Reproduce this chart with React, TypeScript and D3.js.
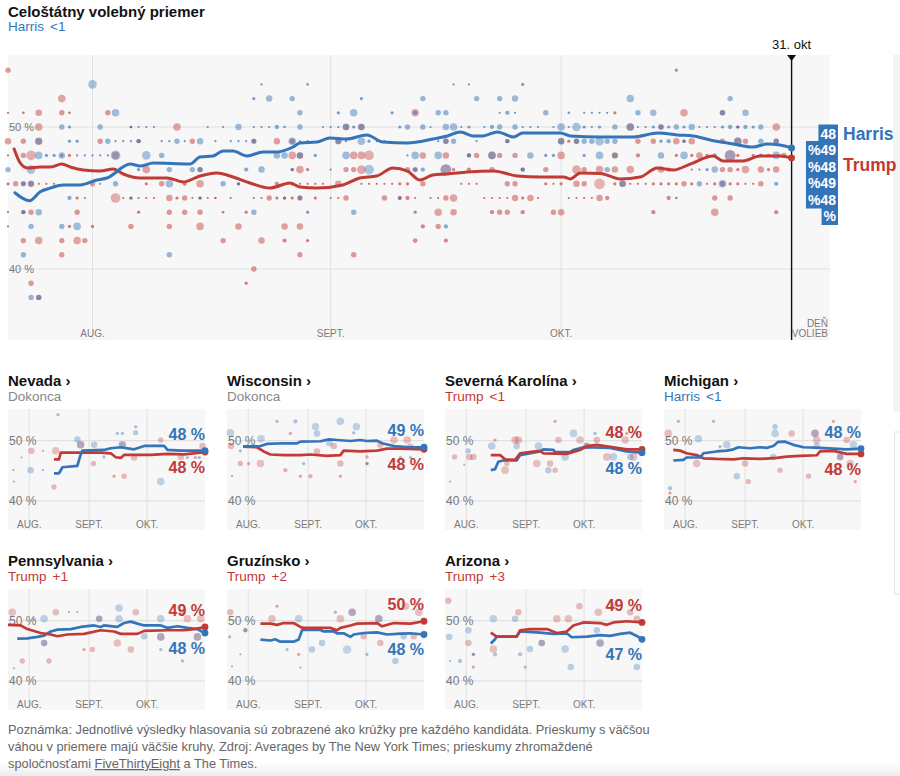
import React from "react";
import * as d3 from "d3";

// ---------- constants / styles ----------
const FONT = "'Liberation Sans', Arial, Helvetica, sans-serif";
const BLUE = "#3474b9";
const RED = "#c23a36";
const AXIS_GREY = "#7a7a7a";
const GRID = "#e1e1e1";
const BG = "#f7f7f7";

// ---------- data ----------
const startDate = "2024-07-21";
const electionDate = "2024-11-05";
const panelEndDate = "2024-10-31";
const markerDate = "2024-10-31";
const markerLabel = "31. okt";
const electionLabel = ["DEŇ", "VOLIEB"];
const monthTicks = ["2024-08-01", "2024-09-01", "2024-10-01"];
const monthLabels = ["AUG.", "SEPT.", "OKT."];
const pctTicks = [50, 40];
const pctTickLabels = ["50 %", "40 %"];

const mainTitle = "Celoštátny volebný priemer";
const mainLeader = "Harris";
const mainMargin = "<1";
const mainBoxLines = ["48", "%49", "%48", "%49", "%48", "%"];

// national averages: [days since 21 Jul, %]
const harrisAvg: [number, number][] = [
  [0.9, 45.37], [2.8, 44.81], [4.2, 45.44], [5.5, 45.7], [7.2, 45.92], [9.4, 45.92], [11.6, 46.27], [12.9, 46.41],
  [15.9, 47.39], [17.2, 47.25], [18.9, 47.46], [23.7, 47.39], [25, 47.89], [26.7, 47.96], [28, 48.31], [29.3, 48.31],
  [31.1, 47.96], [33.2, 48.24], [35, 48.24], [37.1, 48.59], [38, 48.87], [40.2, 48.94], [41.9, 49.23], [44.1, 49.15],
  [46.7, 49.44], [48.8, 48.94], [52, 48.87], [55.3, 49.15], [57.2, 49.37], [58.9, 49.65], [60.5, 49.37], [61.8, 49.37],
  [63.7, 49.65], [65.8, 49.3], [67, 49.58], [69.7, 49.58], [71.9, 49.58], [73.2, 49.37], [77.1, 49.3], [81.4, 49.3],
  [84.6, 49.58], [87.1, 49.44], [89.2, 49.37], [91.4, 49.08], [94.4, 48.8], [97, 48.59], [98.8, 48.8], [100.5, 48.73],
  [102, 48.52],
];
const trumpAvg: [number, number][] = [
  [0.8, 48.45], [1.6, 47.46], [2.6, 47.11], [4.2, 47.18], [5.5, 47.18], [7, 47.39], [8.1, 47.18], [9.8, 46.97],
  [12, 46.9], [13.7, 47.04], [15, 46.69], [17.2, 46.41], [20.7, 46.41], [22.8, 46.13], [25, 46.55], [27.2, 46.76],
  [29.3, 46.48], [31.5, 46.06], [34.1, 45.7], [36.7, 46.06], [38, 45.77], [40.2, 45.7], [43.6, 45.92], [45.8, 46.41],
  [48, 46.55], [50.1, 47.11], [52, 46.9], [53.6, 46.27], [55.3, 46.62], [57.2, 46.69], [59.8, 46.83], [63.2, 46.9],
  [66.3, 46.55], [69.3, 46.48], [72.3, 46.48], [73.2, 46.34], [74.5, 46.76], [77.1, 46.73], [79.7, 46.34], [82.3, 46.48],
  [84.5, 47.11], [86.6, 46.97], [88.8, 47.39], [91.8, 47.96], [93.1, 47.61], [95.7, 47.61], [97.9, 47.96], [100.5, 47.96],
  [102, 47.82],
];

// national polls: [days since 21 Jul, %, weight]
const harrisPolls: [number, number, number][] = [
  [11, 53, 4], [14, 51, 3.5], [7, 50, 2.5], [8, 50, 1.5], [12, 50, 2.5], [16, 50, 1.2], [17, 50, 1], [18, 50, 1], [19, 50, 1], [26, 50, 1],
  [4, 49, 3], [8, 49, 1.5], [9, 49, 1.5], [13, 49, 2.5], [14, 49, 1], [15, 49, 1], [16, 49, 1], [17, 49, 2], [20, 49, 1], [21, 49, 1],
  [22, 49, 2.5], [23, 49, 1], [25, 49, 3], [27, 49, 1], [4, 48, 3.5], [5, 48, 1.5], [6, 48, 1.5], [7, 48, 3], [9, 48, 1], [10, 48, 1],
  [11, 48, 1], [12, 48, 1], [13, 48, 1], [14, 48, 4.5], [18, 48, 4], [20, 48, 2.5], [0, 47, 2.5], [3, 47, 4], [17, 47, 1.5], [21, 47, 2.5],
  [24, 47, 2.5], [25, 47, 2.5], [2, 46, 2], [3, 46, 2.5], [12, 46, 1], [14, 46, 2.5], [21, 46, 3.5], [8, 45, 2], [16, 45, 1.5], [25, 45, 1.5],
  [0, 44, 1], [2, 44, 2], [4, 44, 3], [0, 43, 1], [3, 43, 2.5], [7, 43, 2.5], [9, 43, 3.5], [2, 41, 2.5], [21, 41, 2.5], [3, 38, 2.5], [4, 38, 2.5],
  [33, 53, 1], [39, 53, 1.2], [32, 52, 1.5], [34, 52, 3], [37, 52, 2.5], [46, 52, 1.5], [54, 52, 2.5],
  [38, 51, 2.5], [43, 51, 1.5], [45, 51, 3.5], [50, 51, 1.5], [53, 51, 2],
  [28, 50, 1], [30, 50, 3], [32, 50, 1], [33, 50, 1], [34, 50, 1], [35, 50, 2], [36, 50, 1.2], [38, 50, 2.5], [41, 50, 1], [42, 50, 1],
  [43, 50, 1], [44, 50, 3], [45, 50, 1.5], [46, 50, 3], [51, 50, 1.5], [52, 50, 2.5], [54, 50, 2.5],
  [29, 49, 1], [30, 49, 1], [31, 49, 1], [32, 49, 2], [37, 49, 3.5], [38, 49, 1], [39, 49, 1], [43, 49, 2.5], [44, 49, 1], [46, 49, 3.5],
  [47, 49, 1.5], [48, 49, 1], [49, 49, 1], [35, 48, 3], [36, 48, 3], [38, 48, 3], [40, 48, 1.5], [44, 48, 3.5], [52, 48, 1], [53, 48, 3.5],
  [31, 47, 2], [33, 47, 3], [37, 47, 1.5], [42, 47, 1], [47, 47, 4.5], [53, 47, 2], [54, 47, 2], [28, 46, 2.5], [30, 46, 1.5],
  [36, 45, 1.5], [38, 45, 2], [51, 45, 1.5], [32, 44, 2.5], [39, 44, 1.5], [45, 44, 2.5], [53, 44, 1.5],
  [58, 53, 1], [60, 53, 1], [67, 53, 1.5], [61, 52, 2.5], [64, 52, 2.5], [66, 52, 3], [81, 52, 3.5],
  [56, 51, 2.5], [57, 51, 2.5], [64, 51, 1], [65, 51, 2], [66, 51, 1], [70, 51, 2.5], [73, 51, 1.2], [75, 51, 1], [76, 51, 1], [77, 51, 1], [78, 51, 1],
  [55, 50, 1], [57, 50, 3], [58, 50, 3.5], [59, 50, 1], [60, 50, 1.5], [62, 50, 1], [63, 50, 2], [64, 50, 2.5], [66, 50, 2.5], [67, 50, 1],
  [68, 50, 1], [69, 50, 1], [71, 50, 1], [72, 50, 3.5], [73, 50, 1], [74, 50, 4], [75, 50, 1.5], [76, 50, 1], [77, 50, 1.5], [79, 50, 2.5], [81, 50, 3.5],
  [56, 49, 1], [57, 49, 2.5], [58, 49, 2.5], [61, 49, 1], [65, 49, 2], [72, 49, 3], [74, 49, 2.5], [75, 49, 2.5], [76, 49, 2.5], [77, 49, 4],
  [78, 49, 2.5], [79, 49, 2.5], [56, 48, 3.5], [60, 48, 2], [63, 48, 3.5], [68, 48, 3], [70, 48, 1.5], [71, 48, 1.5], [75, 48, 1.5], [77, 48, 3.5],
  [79, 48, 2.5], [57, 47, 5], [67, 47, 2], [78, 47, 2.5], [80, 46, 3], [57, 43, 2],
  [87, 54, 1.5], [94, 52, 2.5], [82, 51, 2.5], [84, 51, 3], [93, 51, 2.5], [96, 51, 3],
  [82, 50, 1], [83, 50, 1], [84, 50, 1.5], [85, 50, 2.5], [86, 50, 1.5], [87, 50, 2.5], [88, 50, 1.5], [89, 50, 3], [90, 50, 1], [91, 50, 1],
  [92, 50, 1], [93, 50, 1.5], [94, 50, 2], [95, 50, 1.5], [96, 50, 2], [97, 50, 1.5], [98, 50, 2.5],
  [85, 49, 1.5], [86, 49, 2], [88, 49, 1.5], [95, 49, 3.5], [98, 49, 2.5], [100, 49, 2.5],
  [85, 48, 3], [88, 48, 3.5], [92, 48, 2], [94, 48, 5], [98, 48, 1.5], [100, 48, 3.5],
  [84, 47, 1.5], [89, 47, 1], [90, 47, 1], [91, 47, 1.5], [92, 47, 3], [90, 46, 2.5], [93, 46, 3.5], [100, 46, 2], [87, 45, 1.2],
];
const trumpPolls: [number, number, number][] = [
  [0, 54, 2.5], [7, 52, 3.5], [0, 51, 1], [2, 51, 1.2], [4, 51, 3], [7, 51, 2.5], [8, 51, 1.2], [13, 51, 2.5],
  [4, 50, 3.5], [16, 50, 1.2], [22, 50, 3.5], [0, 49, 3], [2, 49, 2.5], [4, 49, 3.5], [12, 49, 2.5], [17, 49, 2], [24, 49, 2.5],
  [0, 48, 1], [2, 48, 2.5], [3, 48, 4.5], [7, 48, 1.2], [8, 48, 1.5], [14, 48, 3.5], [18, 47, 3.5], [25, 47, 2.5],
  [0, 46, 1.5], [1, 46, 2.5], [2, 46, 2.5], [3, 46, 3], [4, 46, 1], [5, 46, 1], [6, 46, 1], [11, 46, 2.5], [18, 46, 1.5], [20, 46, 2.5],
  [23, 46, 2], [25, 46, 3.5], [9, 45, 1.5], [10, 45, 1], [14, 45, 4.5], [15, 45, 1], [16, 45, 1.5], [17, 45, 1], [18, 45, 1], [19, 45, 1],
  [21, 45, 3], [22, 45, 1.5], [23, 45, 2.5], [24, 45, 1], [25, 45, 1.5], [26, 45, 1], [27, 45, 1],
  [2, 44, 2], [3, 44, 2.5], [9, 44, 2.5], [17, 44, 1.5], [21, 44, 2.5], [23, 44, 2.5], [25, 44, 2.5],
  [8, 43, 1.5], [11, 43, 1.5], [16, 43, 2.5], [21, 43, 2.5], [25, 43, 3.5], [2, 42, 2.5], [4, 42, 3.5], [7, 42, 2.5], [9, 42, 3.5], [10, 42, 2.5],
  [7, 41, 2.5], [3, 39, 2.5], [4, 38, 2.5],
  [53, 51, 3.5], [44, 50, 3], [46, 50, 3], [32, 49, 2.5], [35, 49, 3], [37, 49, 2.5], [43, 49, 3],
  [37, 48, 3.5], [38, 48, 3], [45, 48, 3.5], [46, 48, 3.5], [47, 48, 4.5], [54, 48, 3],
  [37, 47, 1.5], [38, 47, 3.5], [39, 47, 1.5], [44, 47, 2.5], [45, 47, 2.5], [46, 47, 4], [52, 47, 2.5], [53, 47, 2.5],
  [30, 46, 1.5], [35, 46, 2], [37, 46, 1.5], [38, 46, 1], [39, 46, 1], [40, 46, 1], [41, 46, 1], [43, 46, 3], [44, 46, 1], [46, 46, 1],
  [47, 46, 1], [48, 46, 1], [49, 46, 1], [50, 46, 1], [51, 46, 1.5], [52, 46, 1.5], [54, 46, 2.5],
  [27, 45, 1], [29, 45, 1], [32, 45, 1], [33, 45, 1], [34, 45, 2.5], [35, 45, 1.5], [36, 45, 1.5], [37, 45, 1.5], [38, 45, 2.5], [40, 45, 1.5],
  [42, 45, 1], [43, 45, 1], [44, 45, 2.5], [49, 45, 2.5], [51, 45, 2], [52, 45, 2], [53, 45, 1],
  [28, 44, 1.2], [31, 44, 1.5], [30, 43, 3], [36, 43, 3], [38, 43, 3], [54, 43, 2],
  [28, 42, 2.5], [33, 42, 3], [36, 42, 2], [39, 42, 1.5], [53, 42, 2.2], [38, 41, 2.5], [45, 41, 2.5], [32, 40, 2.5], [31, 39, 1.5],
  [79, 51, 1.5], [81, 50, 3.5], [57, 49, 2.5], [65, 49, 2], [72, 49, 3], [73, 49, 1.5], [74, 49, 2.5],
  [57, 48, 3], [60, 48, 2], [61, 48, 2.5], [63, 48, 3.5], [64, 48, 2.5], [66, 48, 2.5], [72, 48, 3.5], [79, 48, 3],
  [57, 47, 5], [58, 47, 1.5], [60, 47, 2], [63, 47, 2.5], [67, 47, 2], [70, 47, 2.5], [74, 47, 4], [75, 47, 2.5], [77, 47, 3.5], [79, 47, 3], [81, 47, 3.5],
  [59, 46, 1], [60, 46, 1], [61, 46, 1], [65, 46, 2.5], [66, 46, 2.5], [70, 46, 1.5], [71, 46, 1], [72, 46, 1.5], [74, 46, 3],
  [75, 46, 2.5], [77, 46, 5], [79, 46, 1.5], [80, 46, 3],
  [55, 45, 1], [56, 45, 1], [57, 45, 2.5], [58, 45, 3.5], [62, 45, 1], [63, 45, 1], [64, 45, 1], [65, 45, 1], [66, 45, 3], [67, 45, 1.5],
  [68, 45, 3], [69, 45, 1], [73, 45, 1], [74, 45, 1], [75, 45, 1], [76, 45, 1], [77, 45, 3], [78, 45, 2],
  [56, 44, 3.5], [58, 44, 3], [63, 44, 2], [64, 44, 2.5], [65, 44, 2.5], [67, 44, 2], [71, 44, 2.5], [72, 44, 3], [56, 43, 2.5], [57, 42, 2],
  [88, 51, 3.5], [93, 51, 2.5], [85, 50, 2.5], [95, 50, 1.5], [100, 50, 3.5],
  [82, 49, 2.5], [84, 49, 2.5], [87, 49, 3], [88, 49, 1.5], [89, 49, 3], [93, 49, 2.5], [95, 49, 3.5], [96, 49, 2.5], [100, 49, 2.5],
  [82, 48, 2], [87, 48, 1.5], [89, 48, 1.5], [90, 48, 3], [91, 48, 1.5], [94, 48, 5], [95, 48, 1.5], [97, 48, 1.5], [98, 48, 1.5], [99, 48, 1.5], [101, 48, 2.5],
  [85, 47, 3], [86, 47, 2], [93, 47, 2.5], [94, 47, 2.5], [95, 47, 1.5], [96, 47, 3.5], [98, 47, 3], [99, 47, 1.5], [100, 47, 3],
  [81, 46, 1], [82, 46, 1], [83, 46, 1], [84, 46, 1.5], [85, 46, 1.5], [86, 46, 1.5], [87, 46, 1.5], [88, 46, 2.5], [89, 46, 1.5], [91, 46, 1],
  [92, 46, 1.5], [93, 46, 2.5], [94, 46, 1.5], [95, 46, 1.5], [96, 46, 1], [97, 46, 1], [98, 46, 2.5],
  [86, 45, 2], [92, 45, 2.5], [94, 45, 2.5], [84, 44, 2], [92, 44, 3.5], [100, 44, 2],
];

// battleground states
const stateNames = ["Nevada", "Wisconsin", "Severná Karolína", "Michigan", "Pennsylvania", "Gruzínsko", "Arizona"];
const stateLeaders = ["", "", "Trump", "Harris", "Trump", "Trump", "Trump"];
const stateMargins = ["Dokonca", "Dokonca", "<1", "<1", "+1", "+2", "+3"];
const stateHarrisLabels = ["48 %", "49 %", "48 %", "48 %", "48 %", "48 %", "47 %"];
const stateTrumpLabels = ["48 %", "48 %", "48 %", "48 %", "49 %", "50 %", "49 %"];

const nevadaHarris: [number, number][] = [[23.8, 44.58], [26.4, 44.58], [28.2, 45.58], [35.9, 45.8], [37.3, 47.35], [38.5, 48.34], [49.7, 48.45], [53.2, 48.73], [58.4, 48.9], [65.3, 48.56], [70.5, 49.12], [80.8, 49.12], [82.6, 48.45], [89.5, 48.34], [102, 48.34]];
const nevadaTrump: [number, number][] = [[23.8, 46.9], [26.4, 46.9], [27.3, 48.0], [48, 48.0], [53.2, 47.9], [55.8, 47.24], [58.4, 47.13], [60.1, 47.62], [73.9, 47.62], [82.6, 47.79], [91.2, 47.73], [102, 48.1]];
const wisconsinHarris: [number, number][] = [[8.3, 49.0], [17.3, 49.1], [20.7, 49.45], [29.4, 49.56], [36.3, 49.56], [38, 49.83], [48.4, 49.9], [52.7, 50.2], [57, 50.1], [63.9, 49.94], [69, 50.1], [72.5, 49.94], [77.7, 50.0], [80.3, 49.56], [86.4, 49.1], [95, 48.9], [102, 48.9]];
const wisconsinTrump: [number, number][] = [[8.3, 49.0], [15.5, 48.9], [19, 48.2], [22.5, 47.7], [29.4, 47.6], [38, 47.6], [43.2, 47.7], [51.8, 47.46], [58.7, 47.6], [60.4, 48.34], [69, 48.23], [77.7, 48.34], [82.9, 48.67], [89.8, 48.67], [102, 48.56]];
const carolinaHarris: [number, number][] = [[23.7, 45.1], [25.9, 45.25], [27.6, 46.5], [30.2, 46.7], [37.1, 46.7], [38.9, 47.6], [49.2, 48.2], [50.9, 48.56], [56.1, 48.45], [57, 48.1], [64.8, 48.1], [66.5, 48.45], [71.7, 48.9], [85.5, 48.8], [94.1, 48.2], [102, 48.0]];
const carolinaTrump: [number, number][] = [[23.7, 47.6], [28.5, 47.6], [31.1, 46.9], [36.3, 46.8], [38.9, 47.9], [45.8, 48.2], [49.2, 48.3], [50.9, 47.9], [63, 47.8], [69.9, 48.45], [73.4, 49.1], [78.6, 49.3], [87.2, 48.9], [94.1, 48.56], [102, 48.56]];
const michiganHarris: [number, number][] = [[4.8, 46.7], [10, 46.8], [11.7, 47.2], [18.7, 47.2], [20.4, 47.9], [27.3, 48.2], [32.5, 48.34], [36, 48.56], [38.5, 48.9], [44.6, 48.73], [49.7, 48.9], [53.2, 48.8], [56.6, 49.1], [59.2, 49.8], [62.7, 49.83], [67, 49.3], [72.2, 48.9], [80.8, 48.8], [87.7, 48.67], [94.6, 48.56], [102, 48.67]];
const michiganTrump: [number, number][] = [[4.8, 48.45], [8.3, 48.34], [11.7, 47.9], [16.9, 47.6], [20.4, 47.07], [27.3, 46.96], [36, 46.9], [41.1, 47.07], [49.7, 46.96], [58.4, 47.13], [63.6, 47.35], [70.5, 47.46], [79.1, 47.57], [80.8, 48.2], [87.7, 48.3], [94.6, 47.8], [102, 47.8]];
const pennHarris: [number, number][] = [[4.8, 47.0], [10, 47.05], [15.2, 47.3], [18.7, 47.5], [22.1, 48.2], [25.6, 48.5], [32.5, 48.6], [37.7, 48.95], [44.6, 49.2], [48, 48.95], [49.7, 49.2], [56.6, 48.95], [60.1, 49.6], [63.6, 49.83], [67, 49.5], [70.5, 49.2], [79.1, 49.2], [82.6, 48.8], [87.7, 49.06], [92.9, 48.8], [98.1, 48.6], [100.3, 48.2], [102, 47.95]];
const pennTrump: [number, number][] = [[0, 49.3], [6.6, 49.2], [10, 48.6], [16.9, 47.95], [22.1, 47.7], [25.6, 47.4], [30.7, 47.7], [39.4, 47.8], [48, 48.4], [54.9, 48.2], [58.4, 47.8], [67, 47.8], [70.5, 48.3], [82.6, 48.4], [91.2, 48.4], [96.4, 48.6], [102, 48.95]];
const georgiaHarris: [number, number][] = [[17.3, 46.85], [22.5, 46.7], [25, 46.9], [27.6, 46.5], [34.5, 46.5], [37.1, 46.85], [38.9, 48.45], [48.4, 48.45], [50.1, 48.2], [55.3, 48.2], [57, 47.9], [60.4, 47.9], [63.9, 47.3], [65.6, 47.7], [70.8, 47.95], [77.7, 48.06], [82.9, 47.7], [89.8, 47.85], [95, 47.9], [102, 47.7]];
const georgiaTrump: [number, number][] = [[17.3, 49.5], [22.5, 49.5], [25.9, 49.3], [29.4, 49.6], [34.5, 49.6], [38, 48.95], [39.7, 48.8], [53.5, 48.8], [57, 48.4], [58.7, 48.8], [63.9, 49.2], [67.4, 49.5], [77.7, 49.6], [80.3, 49.06], [86.4, 49.6], [95, 49.5], [102, 49.9]];
const arizonaHarris: [number, number][] = [[23.7, 46.2], [25.9, 46.9], [26.8, 47.35], [37.1, 47.35], [38.9, 48.2], [49.2, 48.0], [56.1, 47.8], [63, 47.9], [65.6, 47.24], [73.4, 47.35], [80.3, 47.6], [85.5, 47.46], [90.7, 47.8], [95.9, 48.0], [99.3, 47.46], [102, 46.9]];
const arizonaTrump: [number, number][] = [[23.7, 48.0], [26.8, 47.35], [37.1, 47.35], [38.9, 48.4], [44, 48.6], [52.7, 48.6], [54.4, 48.4], [57.9, 47.95], [63, 48.2], [66.5, 49.2], [71.7, 49.7], [80.3, 49.6], [83.8, 49.3], [87.2, 49.7], [94.1, 49.9], [102, 49.7]];

const nevadaHarrisPolls: [number, number, number][] = [[25.9, 54.3, 1.5], [3.1, 43.2, 1], [11.7, 45.1, 3], [7, 47.2, 1], [18.1, 45.1, 1], [35.9, 50.2, 3], [37.6, 49.3, 3.5], [44.6, 49.3, 3], [56.6, 51.2, 1.5], [59.2, 51.2, 1.5], [66.1, 51.3, 2.5], [66.1, 52.3, 1.5], [79.1, 43.2, 3.5], [92.9, 47.2, 1.5], [99, 47.2, 1.5], [49.7, 47.3, 1.5], [59.2, 49.3, 3]];
const nevadaTrumpPolls: [number, number, number][] = [[12.1, 48.3, 3], [18.1, 48.3, 1], [2.8, 45.1, 1], [23.8, 42.3, 2.5], [24.7, 48.3, 3.5], [37.6, 49.3, 3.5], [44.2, 46.2, 2.5], [59.2, 49.3, 3.5], [60.1, 44.1, 2.5], [54.9, 44.1, 1.5], [65.3, 47.2, 3], [79.1, 50.1, 2.5], [89.5, 47.3, 3], [100.7, 49.1, 3], [97, 47.2, 1.5]];
const wisconsinHarrisPolls: [number, number, number][] = [[1.7, 51.3, 3.5], [6.9, 48.3, 1.5], [17.6, 50.3, 3.5], [25.9, 53.2, 1.5], [35.4, 53.2, 2], [45.8, 52.3, 3.5], [46.6, 51.2, 3], [58.7, 53.2, 3.5], [67, 52.3, 3.5], [65.6, 51.3, 1.5], [39.7, 46.2, 1.5], [72.5, 46.2, 1.5], [89.8, 47.2, 1.5], [95, 47.2, 1.5], [53, 49.6, 3]];
const wisconsinTrumpPolls: [number, number, number][] = [[2.1, 49.1, 3], [2.6, 44.1, 1], [6.9, 46.2, 2.5], [32.8, 51.2, 1.5], [55.3, 49.1, 3], [58.7, 46.2, 3], [43.2, 44.1, 2], [38, 44.1, 1.5], [30.2, 45.1, 2], [17.3, 46.2, 3.5], [11.2, 46.2, 1.5], [46.6, 48.2, 3], [72.5, 47.3, 1.5], [72.5, 46.2, 1.5], [86.4, 50.1, 3.5], [93.3, 50.1, 3.5], [95, 49, 3], [79.4, 49.3, 3], [58.7, 44.1, 1.5]];
const carolinaHarrisPolls: [number, number, number][] = [[2.6, 43.2, 1], [12, 48.3, 2.5], [24.2, 49.1, 3.5], [37.1, 49.1, 3], [48.4, 49.1, 3.5], [62.2, 47.3, 3.5], [66.5, 51.2, 3.5], [73.4, 49.1, 3], [87.2, 47.3, 3.5], [95.9, 47.3, 3], [99.3, 51.2, 1.5], [53.5, 45.1, 3], [77.7, 51.2, 1.5], [10, 46, 1]];
const carolinaTrumpPolls: [number, number, number][] = [[14.7, 47.3, 3], [12.6, 47.3, 3], [25.9, 50.1, 1.5], [38, 50.1, 3.5], [36.3, 50.1, 3.5], [31.1, 45.1, 3.5], [32, 46.2, 2.5], [47.5, 46.2, 3.5], [57, 53.2, 1.5], [58.7, 50.1, 3], [69.9, 50.1, 3.5], [73.4, 49.1, 3], [78.6, 50.1, 3], [83.8, 47.3, 3.5], [93.3, 50.1, 3.5], [97.6, 47.3, 3.5], [54.4, 46.2, 3], [57, 45.1, 2.5], [94.1, 51.2, 1.5], [5, 47.3, 2.5]];
const michiganHarrisPolls: [number, number, number][] = [[3.1, 42.1, 2], [7.4, 53.2, 1.5], [17.8, 50.3, 3.5], [25.6, 53.2, 1.5], [29, 49, 1.5], [32.5, 49.3, 3.5], [37.7, 44.1, 3], [57.5, 52.3, 2.5], [57.5, 51.2, 3.5], [56.6, 47.3, 3], [78.2, 51.2, 3.5], [79.1, 49.1, 3], [98.1, 49.3, 3.5], [91.2, 47.3, 3]];
const michiganTrumpPolls: [number, number, number][] = [[2.2, 51.2, 3.5], [3.1, 41.3, 1.5], [16.9, 46.2, 3.5], [42, 46.2, 3], [43.7, 43.2, 2.5], [66.1, 51.2, 3], [60.1, 45.1, 2.5], [74.8, 44.1, 2.5], [78.2, 51.2, 3.5], [79.1, 50.1, 3.5], [87.7, 53.2, 1.5], [88.6, 45.1, 1.5], [96.4, 46.2, 3.5], [99, 43.2, 1.5], [94.6, 50.1, 3], [91.2, 47.3, 3]];
const pennHarrisPolls: [number, number, number][] = [[3.1, 42.1, 1], [18.7, 50.3, 3.5], [31.6, 51.4, 1], [35.9, 51.4, 1], [18.7, 46.3, 3], [47.2, 50.3, 3], [57.5, 52.1, 3.5], [57.5, 50.3, 3.5], [70.5, 47.4, 3], [79.1, 47.3, 3.5], [79.1, 50.3, 3.5], [90.3, 43.3, 1.5], [98.1, 47.3, 3.5], [79.1, 45.2, 1.5], [13.5, 50.3, 1.5]];
const pennTrumpPolls: [number, number, number][] = [[2.2, 51.4, 3.5], [7.4, 43.3, 2.5], [24.7, 51.4, 3], [21.2, 43.3, 2.5], [18.7, 46.3, 3], [43.7, 45.2, 2.5], [47.2, 50.3, 3], [56.6, 46.3, 3.5], [66.1, 51.4, 3], [63.6, 45.2, 3], [79.1, 47.3, 3.5], [90.3, 51.4, 3], [92.9, 50.3, 3.5], [99.8, 50.3, 3.5], [98.1, 47.3, 3.5], [39.4, 45.2, 1.5]];
const georgiaHarrisPolls: [number, number, number][] = [[1.4, 47.3, 1.5], [9.5, 48.4, 2], [6.9, 44.4, 1], [2.6, 42.4, 1], [37.1, 50.3, 3.5], [31.1, 45.2, 1.5], [38, 42.2, 1], [44, 45.2, 3], [49.2, 46.3, 3], [64.8, 51.4, 3.5], [62.2, 45.2, 4], [72.5, 44.4, 1.5], [78.6, 50.3, 3.5], [87.2, 43.3, 3], [91.5, 47.4, 3], [56.1, 51.4, 1.5]];
const georgiaTrumpPolls: [number, number, number][] = [[1.7, 51.4, 3], [9.5, 48.4, 2], [25.9, 52.4, 1.5], [23.3, 50.3, 3.5], [37.1, 44.4, 1.5], [58.7, 50.3, 3.5], [64.8, 51.4, 3.5], [70.8, 47.4, 3], [78.6, 50.3, 3.5], [79.4, 46.3, 3], [92.4, 52.4, 3.5], [99.3, 51.4, 3.5], [96.7, 47.4, 3]];
const arizonaHarrisPolls: [number, number, number][] = [[2.2, 47.3, 3], [12.1, 48.4, 3], [2.6, 43.3, 1], [7.8, 43.3, 2], [14.7, 44.4, 1.5], [25, 50.3, 3.5], [25.9, 44.4, 2], [36.3, 50.3, 3], [44, 45.3, 3], [38.9, 44.4, 2], [41.5, 42.3, 1.5], [50.1, 46.3, 3], [62.2, 45.3, 3.5], [65.1, 42.3, 3], [78.6, 48.4, 3], [80.3, 46.3, 3.5], [99.3, 42.3, 3]];
const arizonaTrumpPolls: [number, number, number][] = [[1.7, 53.3, 3], [12.1, 46.3, 3], [14.7, 42.3, 1.5], [14.7, 44.4, 1.5], [25, 45.3, 3.5], [38, 51.4, 3], [50.1, 46.3, 3], [63.9, 50.3, 3.5], [69.6, 52.4, 3], [79.4, 51.4, 3.5], [87.2, 52.4, 3], [80.3, 46.3, 3.5], [95.9, 51.4, 3], [99.3, 50.3, 3], [57.9, 50.3, 3.5]];

const stateHarrisAvgs = [nevadaHarris, wisconsinHarris, carolinaHarris, michiganHarris, pennHarris, georgiaHarris, arizonaHarris];
const stateTrumpAvgs = [nevadaTrump, wisconsinTrump, carolinaTrump, michiganTrump, pennTrump, georgiaTrump, arizonaTrump];
const stateHarrisPolls = [nevadaHarrisPolls, wisconsinHarrisPolls, carolinaHarrisPolls, michiganHarrisPolls, pennHarrisPolls, georgiaHarrisPolls, arizonaHarrisPolls];
const stateTrumpPolls = [nevadaTrumpPolls, wisconsinTrumpPolls, carolinaTrumpPolls, michiganTrumpPolls, pennTrumpPolls, georgiaTrumpPolls, arizonaTrumpPolls];

const noteLines = [
  "Poznámka: Jednotlivé výsledky hlasovania sú zobrazené ako krúžky pre každého kandidáta. Prieskumy s väčšou",
  "váhou v priemere majú väčšie kruhy. Zdroj: Averages by The New York Times; prieskumy zhromaždené",
];
const noteLast = ["spoločnosťami ", "FiveThirtyEight", " a The Times."];

// ---------- helpers ----------
const parse = d3.timeParse("%Y-%m-%d");
const t0 = parse(startDate) as Date;
const dayToDate = (d: number) => new Date(t0.getTime() + d * 864e5);

function measure(text: string, font: string) {
  const c = document.createElement("canvas").getContext("2d");
  if (!c) return text.length * 8;
  c.font = font;
  return c.measureText(text).width;
}

const rScale = d3.scaleLinear().domain([0, 5]).range([0, 5.4]);
const mainOpacity = d3.scaleLinear().domain([1, 2.5, 5]).range([0.75, 0.5, 0.36]).clamp(true);
const panelOpacity = d3.scaleLinear().domain([1, 2.5, 4]).range([0.5, 0.34, 0.28]).clamp(true);

// ---------- main national chart ----------
function MainChart() {
  const x = d3.scaleTime().domain([t0, parse(electionDate) as Date]).range([8, 830]);
  const y = d3.scaleLinear().domain([35, 55]).range([340, 56]);
  const line = d3
    .line<[number, number]>()
    .x((d) => x(dayToDate(d[0])))
    .y((d) => y(d[1]))
    .curve(d3.curveMonotoneX);
  const mx = x(parse(markerDate) as Date);
  const hEnd = harrisAvg[harrisAvg.length - 1];
  const tEnd = trumpAvg[trumpAvg.length - 1];
  const boxFont = `bold 14px ${FONT}`;
  const boxRight = 836;
  const boxTop = y(hEnd[1]) - 14.5;
  return (
    <g>
      <text x={8} y={17} fontFamily={FONT} fontWeight="bold" fontSize={15} fill="#121212">{mainTitle}</text>
      <text x={8} y={31} fontFamily={FONT} fontSize={13.5} fill={BLUE}>
        <tspan>{mainLeader}</tspan>
        <tspan dx={6}>{mainMargin}</tspan>
      </text>
      <rect x={8} y={55} width={822} height={285} fill={BG} />
      {monthTicks.map((m) => (
        <line key={m} x1={x(parse(m) as Date)} x2={x(parse(m) as Date)} y1={55} y2={340} stroke={GRID} strokeWidth={1} />
      ))}
      {pctTicks.map((p) => (
        <line key={p} x1={8} x2={830} y1={y(p)} y2={y(p)} stroke={GRID} strokeWidth={1.2} />
      ))}
      {pctTicks.map((p, i) => (
        <text key={p} x={9} y={y(p) + 4} fontFamily={FONT} fontSize={11} fill={AXIS_GREY}>{pctTickLabels[i]}</text>
      ))}
      {monthTicks.map((m, i) => (
        <text key={m} x={x(parse(m) as Date)} y={337} textAnchor="middle" fontFamily={FONT} fontSize={10} fill={AXIS_GREY}>{monthLabels[i]}</text>
      ))}
      {trumpPolls.map((d, i) => (
        <circle key={"t" + i} cx={x(dayToDate(d[0]))} cy={y(d[1])} r={rScale(d[2])} fill={RED} fillOpacity={mainOpacity(d[2])} />
      ))}
      {harrisPolls.map((d, i) => (
        <circle key={"h" + i} cx={x(dayToDate(d[0]))} cy={y(d[1])} r={rScale(d[2])} fill={BLUE} fillOpacity={mainOpacity(d[2])} />
      ))}
      <path d={line(trumpAvg) || ""} fill="none" stroke={RED} strokeWidth={3} strokeLinejoin="round" strokeLinecap="round" />
      <path d={line(harrisAvg) || ""} fill="none" stroke={BLUE} strokeWidth={3} strokeLinejoin="round" strokeLinecap="round" />
      <line x1={mx} x2={mx} y1={55} y2={340} stroke="#111" strokeWidth={1.4} />
      <path d={`M${mx - 4.5},55 L${mx + 4.5},55 L${mx},61 Z`} fill="#111" />
      <text x={mx} y={49} textAnchor="middle" fontFamily={FONT} fontSize={13} fill="#111">{markerLabel}</text>
      <circle cx={x(dayToDate(hEnd[0]))} cy={y(hEnd[1])} r={3.4} fill={BLUE} />
      <circle cx={x(dayToDate(tEnd[0]))} cy={y(tEnd[1])} r={3.4} fill={RED} />
      {electionLabel.map((t, i) => (
        <text key={t} x={828} y={326.5 + i * 10.5} textAnchor="end" fontFamily={FONT} fontSize={10} fill={AXIS_GREY}>{t}</text>
      ))}
      {mainBoxLines.map((t, i) => {
        const w = measure(t, boxFont);
        const cy = boxTop + i * 16.5;
        return <rect key={i} x={boxRight - w - 2} y={cy - 9} width={w + 4} height={18} fill={BLUE} />;
      })}
      {mainBoxLines.map((t, i) => (
        <text key={i} x={boxRight} y={boxTop + i * 16.5 + 5} textAnchor="end" fontFamily={FONT} fontWeight="bold" fontSize={14} fill="#fff">{t}</text>
      ))}
      <text x={843} y={y(hEnd[1]) - 8} fontFamily={FONT} fontWeight="bold" fontSize={17.5} fill={BLUE}>Harris</text>
      <text x={843} y={y(tEnd[1]) + 13} fontFamily={FONT} fontWeight="bold" fontSize={17.5} fill={RED}>Trump</text>
    </g>
  );
}

// ---------- state panel ----------
function Panel({ i, x0, y0 }: { i: number; x0: number; y0: number }) {
  const W = 197;
  const H = 121;
  const x = d3.scaleTime().domain([t0, parse(panelEndDate) as Date]).range([x0, x0 + W]);
  const y = d3.scaleLinear().domain([35, 55]).range([y0 + 122, y0 + 1.5]);
  const line = d3
    .line<[number, number]>()
    .x((d) => x(dayToDate(d[0])))
    .y((d) => y(d[1]))
    .curve(d3.curveLinear);
  const hA = stateHarrisAvgs[i];
  const tA = stateTrumpAvgs[i];
  const hEnd = hA[hA.length - 1];
  const tEnd = tA[tA.length - 1];
  const harrisUp = hEnd[1] >= tEnd[1];
  const leader = stateLeaders[i];
  const subColor = leader === "Harris" ? BLUE : leader === "Trump" ? RED : "#888";
  return (
    <g>
      <text x={x0} y={y0 - 23} fontFamily={FONT} fontWeight="bold" fontSize={15} fill="#121212">
        {stateNames[i] + " ›"}
      </text>
      <text x={x0} y={y0 - 8.3} fontFamily={FONT} fontSize={13.5} fill={subColor}>
        {leader ? (
          <>
            <tspan>{leader}</tspan>
            <tspan dx={6}>{stateMargins[i]}</tspan>
          </>
        ) : (
          <tspan>{stateMargins[i]}</tspan>
        )}
      </text>
      <rect x={x0} y={y0} width={W} height={H} fill={BG} />
      {monthTicks.map((m) => (
        <line key={m} x1={x(parse(m) as Date)} x2={x(parse(m) as Date)} y1={y0} y2={y0 + H} stroke={GRID} strokeWidth={1} />
      ))}
      {pctTicks.map((p) => (
        <line key={p} x1={x0} x2={x0 + W} y1={y(p)} y2={y(p)} stroke={GRID} strokeWidth={1.2} />
      ))}
      {pctTicks.map((p, k) => (
        <text key={p} x={x0 + 1} y={y(p) + 4.5} fontFamily={FONT} fontSize={12} fill={AXIS_GREY}>{pctTickLabels[k]}</text>
      ))}
      {monthTicks.map((m, k) => (
        <text key={m} x={x(parse(m) as Date)} y={y0 + 118.5} textAnchor="middle" fontFamily={FONT} fontSize={10} fill={AXIS_GREY}>{monthLabels[k]}</text>
      ))}
      {stateTrumpPolls[i].map((d, k) => (
        <circle key={"t" + k} cx={x(dayToDate(d[0]))} cy={y(d[1])} r={rScale(d[2])} fill={RED} fillOpacity={panelOpacity(d[2])} />
      ))}
      {stateHarrisPolls[i].map((d, k) => (
        <circle key={"h" + k} cx={x(dayToDate(d[0]))} cy={y(d[1])} r={rScale(d[2])} fill={BLUE} fillOpacity={panelOpacity(d[2])} />
      ))}
      <path d={line(harrisUp ? tA : hA) || ""} fill="none" stroke={harrisUp ? RED : BLUE} strokeWidth={2.7} strokeLinejoin="round" />
      <path d={line(harrisUp ? hA : tA) || ""} fill="none" stroke={harrisUp ? BLUE : RED} strokeWidth={2.7} strokeLinejoin="round" />
      <circle cx={x(dayToDate(tEnd[0]))} cy={y(tEnd[1])} r={3.4} fill={RED} />
      <circle cx={x(dayToDate(hEnd[0]))} cy={y(hEnd[1])} r={3.4} fill={BLUE} />
      <text
        x={x0 + W}
        y={harrisUp ? y(hEnd[1]) - 11 : y(hEnd[1]) + 21}
        textAnchor="end" fontFamily={FONT} fontWeight="bold" fontSize={16} fill={BLUE}
      >{stateHarrisLabels[i]}</text>
      <text
        x={x0 + W}
        y={harrisUp ? y(tEnd[1]) + 21 : y(tEnd[1]) - 11}
        textAnchor="end" fontFamily={FONT} fontWeight="bold" fontSize={16} fill={RED}
      >{stateTrumpLabels[i]}</text>
    </g>
  );
}

const panelXs = [8, 227, 445, 664];
const panelYs = [409, 589];

export default function App() {
  return (
    <svg
      width={900}
      height={776}
      viewBox="0 0 900 776"
      style={{ position: "absolute", left: 0, top: 0, background: "#fff" }}
    >
      <defs>
        <linearGradient id="fade" x1="0" y1="0" x2="0" y2="1">
          <stop offset="0" stopColor="#eeeeee" stopOpacity={0} />
          <stop offset="1" stopColor="#e9e9e9" stopOpacity={0.9} />
        </linearGradient>
      </defs>
      <rect x={0} y={0} width={900} height={776} fill="#fff" />
      <rect x={893} y={55} width={7} height={357} fill="#f4f4f4" />
      <rect x={894.5} y={432} width={10} height={162} fill="#fff" stroke="#e3e3e3" />
      <MainChart />
      {stateNames.map((_, i) => (
        <Panel key={i} i={i} x0={panelXs[i % 4]} y0={panelYs[Math.floor(i / 4)]} />
      ))}
      <rect x={0} y={762} width={900} height={14} fill="url(#fade)" />
      {noteLines.map((t, i) => (
        <text key={i} x={8} y={734 + i * 17} fontFamily={FONT} fontSize={12.8} fill="#666">{t}</text>
      ))}
      <text x={8} y={768} fontFamily={FONT} fontSize={12.8} fill="#666">
        <tspan>{noteLast[0]}</tspan>
        <tspan style={{ textDecoration: "underline" }}>{noteLast[1]}</tspan>
        <tspan>{noteLast[2]}</tspan>
      </text>
    </svg>
  );
}
